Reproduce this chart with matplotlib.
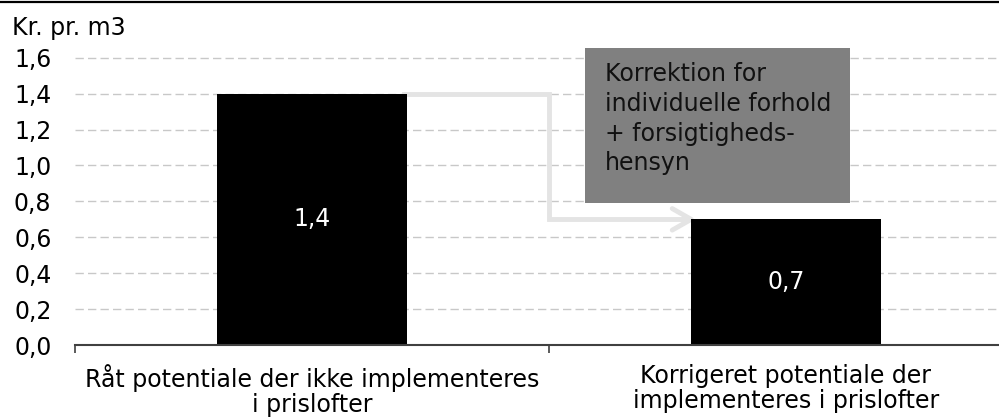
import matplotlib.pyplot as plt
from matplotlib.lines import Line2D
from matplotlib.patches import Rectangle

categories = ["Råt potentiale der ikke implementeres\ni prislofter",
              "Korrigeret potentiale der\nimplementeres i prislofter"]
values = [1.4, 0.7]
value_labels = ["1,4", "0,7"]
yticks = [0.0, 0.2, 0.4, 0.6, 0.8, 1.0, 1.2, 1.4, 1.6]
ytick_labels = ["0,0", "0,2", "0,4", "0,6", "0,8", "1,0", "1,2", "1,4", "1,6"]
box_text = "Korrektion for\nindividuelle forhold\n+ forsigtigheds-\nhensyn"

plt.rcParams['font.family'] = ['DejaVu Sans']
fs = 17

W, H = 999, 417
fig = plt.figure(figsize=(W / 100, H / 100), dpi=100)
# axes runs a bit past the right edge, like the cropped original
ax = fig.add_axes([75 / W, (H - 345) / H, 948 / W, 289 / H])

x = [0, 1]
ax.bar(x, values, width=0.4, color="black", zorder=3)
for xi, v, lab in zip(x, values, value_labels):
    ax.text(xi, v / 2, lab, color="white", ha="center", va="center", fontsize=fs, zorder=4)

ax.set_xlim(-0.5, 1.5)
ax.set_ylim(0, 1.61)
ax.set_yticks(yticks)
ax.set_yticklabels(ytick_labels, fontsize=fs)
ax.set_xticks(x)
ax.set_xticklabels(categories, fontsize=fs, linespacing=1.05)
ax.tick_params(axis="x", length=0, pad=14)
ax.tick_params(axis="y", length=0, pad=17)
ax.set_xticks([-0.5, 0.5, 1.5], minor=True)
ax.tick_params(axis="x", which="minor", length=6, width=1.2, color="#404040")

ax.grid(axis="y", color="#c8c8c8", linestyle=(0, (6, 3)), linewidth=1, zorder=0)
for s in ["left", "right", "top"]:
    ax.spines[s].set_visible(False)
ax.spines["bottom"].set_color("#404040")
ax.spines["bottom"].set_linewidth(1.5)
ax.spines["bottom"].set_zorder(5)

# gray annotation box
ax.add_patch(Rectangle((0.576, 0.79), 0.56, 0.865, facecolor="#808080",
                       edgecolor="none", zorder=2, clip_on=False))
ax.text(0.618, 1.575, box_text, fontsize=fs, color="#111111", va="top", ha="left",
        linespacing=1.3, zorder=3)

# elbow arrow from bar 1 to bar 2
arrow_col = "#e4e4e4"
ax.plot([0.195, 0.5, 0.5, 0.795], [1.4, 1.4, 0.7, 0.7], color=arrow_col,
        linewidth=3.5, solid_joinstyle="miter", zorder=2.5)
ax.plot([0.76, 0.8, 0.76], [0.76, 0.7, 0.64], color=arrow_col, linewidth=3.5,
        solid_capstyle="round", zorder=2.5)

fig.text(12 / W, 1 - 28 / H, "Kr. pr. m3", fontsize=fs, va="center", ha="left")

# cut-off title rule at the very top
fig.add_artist(Line2D([0, 1], [1 - 2 / H, 1 - 2 / H], color="black", linewidth=1.6))

fig.savefig("out.png", dpi=100)
